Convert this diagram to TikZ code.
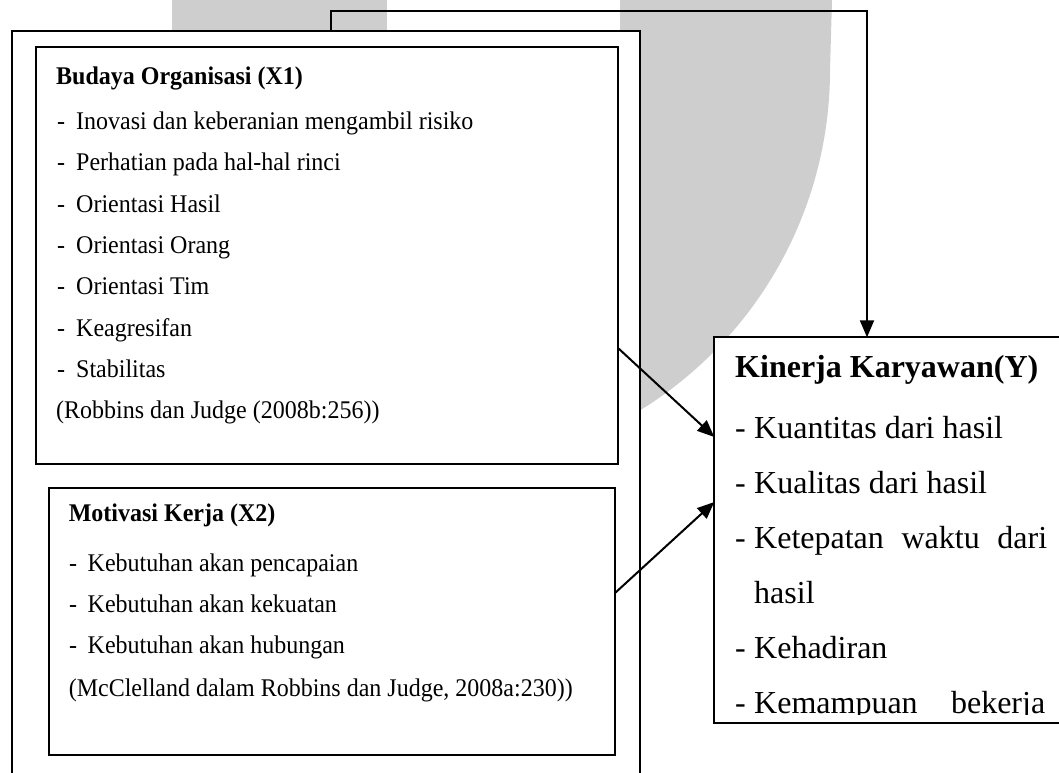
\documentclass[tikz,border=0pt]{standalone}
\usepackage{fontspec}
\setmainfont{Liberation Serif}
\usetikzlibrary{arrows.meta}
\definecolor{wm}{RGB}{206,206,206}
\newcommand{\tall}[1]{\scalebox{1}[1.06]{#1}}
\begin{document}
\begin{tikzpicture}[x=1pt,y=-1pt,
  box/.style={draw=black, line width=2pt, fill=white, inner sep=0pt, outer sep=0pt, anchor=north west},
  conn/.style={draw=black, line width=2pt},
  arr/.style={conn, -{Triangle[length=17pt,width=14pt]}},
  sm/.style={font=\fontsize{24}{28}\selectfont, anchor=base west, inner sep=0pt},
  smb/.style={sm, font=\fontsize{24}{28}\selectfont\bfseries},
  lg/.style={font=\fontsize{32}{36}\selectfont, anchor=base west, inner sep=0pt},
  lgb/.style={lg, font=\fontsize{32}{36}\selectfont\bfseries}]
\useasboundingbox (0,0) rectangle (1059,772);
% watermark
\fill[wm] (172,0) rectangle (387,40);
\fill[wm] (620,0) -- (832,0) -- (830,70) .. controls (830,225.5) and (740,366.7) .. (599,432.5) -- (620,432.5) -- cycle;
% boxes
\node[box, minimum width=628.5pt, minimum height=800pt] (outer) at (11.5,30.5) {};
\node[box, minimum width=582pt, minimum height=417pt] (x1) at (36,46.5) {};
\node[box, minimum width=566.4pt, minimum height=267.4pt] (x2) at (48.6,487.7) {};
\node[box, minimum width=370pt, minimum height=385.4pt] (yb) at (714.3,337.3) {};
% X1 text
\node[smb] (x1t) at (56,84.3) {\tall{Budaya Organisasi (X1)}};
\foreach \yy/\tx [count=\i] in {129/Inovasi dan keberanian mengambil risiko,170/Perhatian pada hal-hal rinci,212.5/Orientasi Hasil,253.5/Orientasi Orang,294/Orientasi Tim,336.5/Keagresifan,377.5/Stabilitas}{
  \node[sm] (x1d\i) at (57,\yy) {\tall{-}};
  \node[sm] (x1i\i) at (76,\yy) {\tall{\tx}};
}
\node[sm] (x1c) at (56,418.5) {\tall{(Robbins dan Judge (2008b:256))}};
% X2 text
\node[smb] (x2t) at (68.6,521.7) {\tall{Motivasi Kerja (X2)}};
\foreach \yy/\tx [count=\i] in {571.7/Kebutuhan akan pencapaian,612.7/Kebutuhan akan kekuatan,653.3/Kebutuhan akan hubungan}{
  \node[sm] (x2d\i) at (69,\yy) {\tall{-}};
  \node[sm] (x2i\i) at (87.5,\yy) {\tall{\tx}};
}
\node[sm] (x2c) at (68.6,696) {\tall{(McClelland dalam Robbins dan Judge, 2008a:230))}};
% Y text
\node[lgb] (yt) at (735,377) {Kinerja Karyawan(Y)};
\node[lg] (yd1) at (735,438) {-};
\node[lg] (yi1) at (754,438) {Kuantitas dari hasil};
\node[lg] (yd2) at (735,493) {-};
\node[lg] (yi2) at (754,493) {Kualitas dari hasil};
\node[lg] (yd3) at (735,548) {-};
\node[lg] (yi3) at (754,548) {\hbox to 293pt{Ketepatan\hfill waktu\hfill dari}};
\node[lg] (yi3b) at (754,603) {hasil};
\node[lg] (yd4) at (735,658) {-};
\node[lg] (yi4) at (754,658) {Kehadiran};
\begin{scope}
  \clip (700,690) rectangle (1059,714);
  \node[lg] (yd5) at (735,713.5) {-};
  \node[lg] (yi5) at (754,713.5) {\hbox to 291pt{Kemampuan\hfill bekerja}};
\end{scope}
% connectors
\coordinate (c1) at (331,11);
\coordinate (c2) at (867,11);
\draw[arr] (c1 |- outer.north) -- (c1) -- (c2) -- (c2 |- yb.north);
\coordinate (a1s) at (618,348);
\coordinate (a1e) at (716,437);
\coordinate (a2s) at (614.5,593);
\coordinate (a2e) at (716,502);
\draw[arr] (x1.east |- a1s) -- (yb.west |- a1e);
\draw[arr] (x2.east |- a2s) -- (yb.west |- a2e);
\end{tikzpicture}
\end{document}
